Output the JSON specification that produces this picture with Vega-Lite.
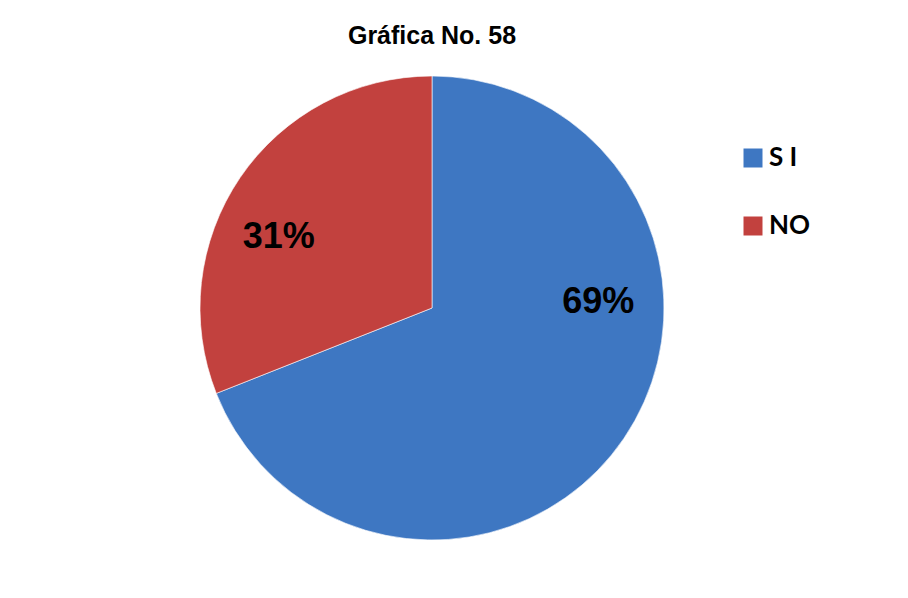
{
  "$schema": "https://vega.github.io/schema/vega-lite/v6.json",
  "autosize": "none",
  "width": 864,
  "height": 466,
  "padding": {"left": 0, "top": 75, "right": 44, "bottom": 57},
  "background": "#ffffff",
  "config": {"view": {"stroke": null}},
  "title": {
    "text": "Gráfica No. 58",
    "font": "Liberation Sans",
    "fontSize": 25,
    "fontWeight": "bold",
    "color": "#000000",
    "anchor": "middle",
    "offset": 25
  },
  "data": {
    "values": [
      {"respuesta": "S I", "porcentaje": 0.69},
      {"respuesta": "NO", "porcentaje": 0.31}
    ]
  },
  "layer": [
    {
      "mark": {"type": "arc", "outerRadius": 232, "stroke": "#ffffff", "strokeWidth": 1, "strokeOpacity": 0.6},
      "encoding": {
        "theta": {"field": "porcentaje", "type": "quantitative", "stack": true},
        "order": {"field": "porcentaje", "type": "quantitative", "sort": "descending"},
        "color": {
          "field": "respuesta",
          "type": "nominal",
          "sort": ["S I", "NO"],
          "scale": {"domain": ["S I", "NO"], "range": ["#3e77c2", "#c2413e"]},
          "legend": {
            "title": null,
            "orient": "none",
            "legendX": 740,
            "legendY": 70,
            "padding": 0,
            "symbolType": "square",
            "symbolSize": 361,
            "symbolStrokeWidth": 0,
            "symbolOpacity": 1,
            "labelFont": "Lato",
            "labelFontSize": 26,
            "labelFontWeight": "bold",
            "labelColor": "#000000",
            "labelOffset": 3,
            "rowPadding": 42
          }
        }
      }
    },
    {
      "mark": {"type": "text", "radius": 166, "font": "Liberation Sans", "fontSize": 36, "fontWeight": "bold", "fill": "#000000", "dx": 29, "dy": -99},
      "encoding": {
        "theta": {"field": "porcentaje", "type": "quantitative", "stack": true},
        "order": {"field": "porcentaje", "type": "quantitative", "sort": "descending"},
        "detail": {"field": "respuesta", "type": "nominal"},
        "text": {"field": "porcentaje", "type": "quantitative", "format": ".0%"},
        "opacity": {"condition": {"test": "datum.respuesta === 'S I'", "value": 1}, "value": 0}
      }
    },
    {
      "mark": {"type": "text", "radius": 166, "font": "Liberation Sans", "fontSize": 36, "fontWeight": "bold", "fill": "#000000", "dx": -16, "dy": 22},
      "encoding": {
        "theta": {"field": "porcentaje", "type": "quantitative", "stack": true},
        "order": {"field": "porcentaje", "type": "quantitative", "sort": "descending"},
        "detail": {"field": "respuesta", "type": "nominal"},
        "text": {"field": "porcentaje", "type": "quantitative", "format": ".0%"},
        "opacity": {"condition": {"test": "datum.respuesta === 'NO'", "value": 1}, "value": 0}
      }
    }
  ]
}
